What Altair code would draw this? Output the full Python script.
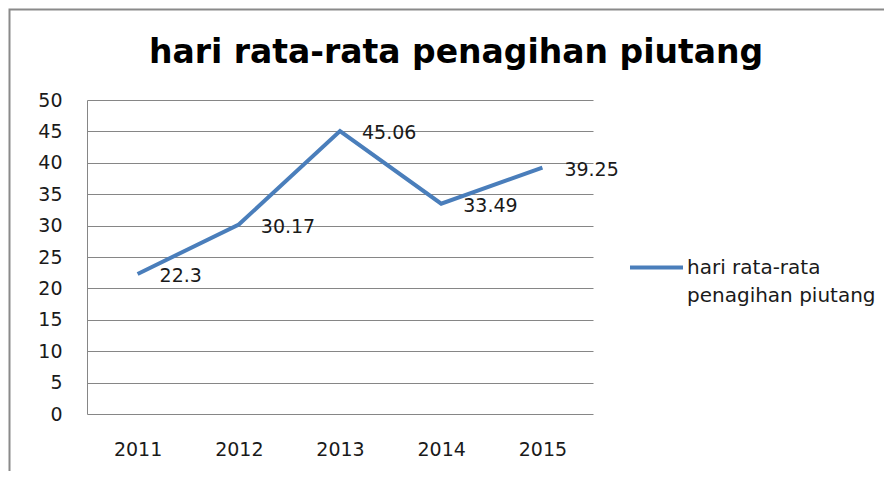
import altair as alt
import pandas as pd

years = ["2011", "2012", "2013", "2014", "2015"]
values = [22.3, 30.17, 45.06, 33.49, 39.25]
value_labels = ["22.3", "30.17", "45.06", "33.49", "39.25"]
series_name = "hari rata-rata penagihan piutang"
y_ticks = [0, 5, 10, 15, 20, 25, 30, 35, 40, 45, 50]

df = pd.DataFrame({
    "tahun": years,
    "nilai": values,
    "label": value_labels,
    "seri": [series_name] * len(years),
})

LINE_COLOR = "#4A7EBB"
GRID = "#868686"
FONT = "DejaVu Sans"

base = alt.Chart(df)

x_enc = alt.X("tahun:O", sort=years, scale=alt.Scale(type="point", padding=0.5),
              axis=alt.Axis(title=None, labelAngle=0, domain=False, ticks=False, grid=False,
                            labelFont=FONT, labelFontSize=19, labelColor="#1a1a1a",
                            labelPadding=26))
y_enc = alt.Y("nilai:Q", scale=alt.Scale(domain=[0, 50], nice=False, zero=True),
              axis=alt.Axis(title=None, values=y_ticks, grid=True, gridColor=GRID, gridWidth=1,
                            domain=True, domainColor=GRID, domainWidth=1, ticks=False,
                            labelFont=FONT, labelFontSize=19, labelColor="#1a1a1a",
                            labelPadding=25, labelOverlap=False))

one = pd.DataFrame({"b": [1]})

border = alt.Chart(one).mark_rect(
    fill="transparent", stroke="#8a8a8a", strokeWidth=2
).encode(
    x=alt.value(-77.5), x2=alt.value(900), y=alt.value(-90.5), y2=alt.value(700)
)

title = alt.Chart(one).mark_text(
    align="center", baseline="alphabetic", font=FONT, fontSize=33, fontWeight="bold",
    color="#000000"
).encode(
    x=alt.value(369), y=alt.value(-37), text=alt.value(series_name)
)

line = base.mark_line(strokeWidth=4).encode(
    x=x_enc,
    y=y_enc,
    color=alt.Color("seri:N", scale=alt.Scale(range=[LINE_COLOR]),
                    legend=alt.Legend(title=None, orient="none", legendX=541, legendY=139,
                                      symbolType="stroke", symbolSize=2809, symbolStrokeWidth=4,
                                      labelFont=FONT, labelFontSize=20, labelColor="#1a1a1a",
                                      labelOffset=2, labelLimit=400, padding=0,
                                      labelBaseline="middle",
                                      labelExpr="['hari rata-rata', 'penagihan piutang']")),
)

text = base.mark_text(align="left", baseline="middle", dx=22, dy=2, font=FONT,
                      fontSize=19, color="#1a1a1a").encode(
    x=x_enc,
    y=y_enc,
    text="label:N",
)

chart = alt.layer(border, title, line, text).properties(
    width=506, height=314,
    padding={"left": 79, "top": 92, "right": 291, "bottom": 57},
    autosize="none",
).configure(
    style={"guide-label": {"lineHeight": 28}},
    view=alt.ViewConfig(strokeWidth=0),
)

chart.save("out.html", embed_options={"renderer": "svg", "actions": False})
